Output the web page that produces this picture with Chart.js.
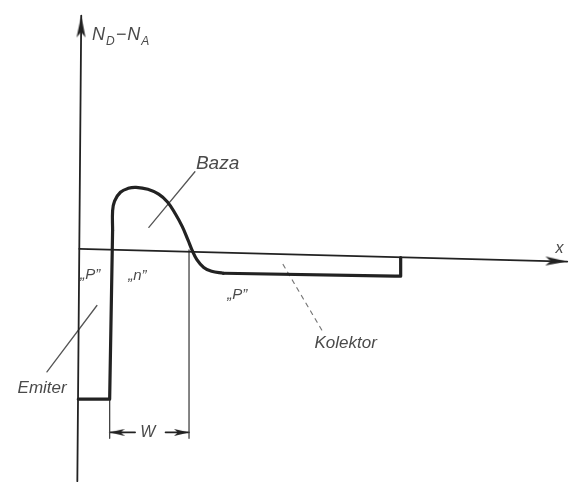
<!DOCTYPE html>
<html>
<head>
<meta charset="utf-8">
<script src="https://cdn.jsdelivr.net/npm/chart.js@4/dist/chart.umd.min.js"></script>
<style>
    html, body { margin: 0; padding: 0; background: #fff; }
    canvas { display: block; }
</style>
</head>
<body>
<canvas id="profile" width="575" height="487"></canvas>
<script>
// Doping profile N_D - N_A along x (arbitrary units)
const axisX = [[0, 0], [49.8, -1.3]];
const axisY = [[-0.2, -23.8], [0.2, 23.9]];

const emitterStep = [[-0.1, -15.4], [3.1, -15.4], [3.4, 1.9]];
const baseHump = [
    [3.4, 1.9], [3.4, 3.9], [3.6, 4.9], [4.2, 5.8], [5.0, 6.2], [5.8, 6.3],
    [7.0, 6.1], [8.1, 5.6], [9.0, 4.8], [9.8, 3.6], [10.5, 2.3], [11.1, 0.9],
    [11.5, -0.1], [12.0, -1.1], [12.7, -1.9], [13.5, -2.3], [14.7, -2.5]
];
const collectorTail = [[14.7, -2.5], [32.2, -2.8], [32.8, -2.8], [32.8, -0.9]];

// base width W
const wLeftTick = [[3.1, -15.5], [3.1, -19.4]];
const wRightTick = [[11.2, -0.1], [11.2, -19.4]];
const wLeftArrow = [[5.7, -18.8], [3.1, -18.8]];
const wRightArrow = [[8.8, -18.8], [11.2, -18.8]];

// callout lines
const bazaLeader = [[11.8, 7.9], [7.1, 2.2]];
const emiterLeader = [[1.8, -5.8], [-3.3, -12.6]];
const kolektorLeader = [[20.8, -1.6], [24.8, -8.4]];

const labels = [
    { text: 'Baza', x: 11.9, y: 8.2, size: 19 },
    { text: 'x', x: 49.0, y: -0.4, size: 16, align: 'center' },
    { text: '\u201EP\u201D', x: 0.1, y: -3.1, size: 15 },
    { text: '\u201En\u201D', x: 5.0, y: -3.2, size: 15 },
    { text: '\u201EP\u201D', x: 15.1, y: -5.1, size: 15 },
    { text: 'Kolektor', x: 24.0, y: -10.2, size: 17 },
    { text: 'Emiter', x: -6.3, y: -14.8, size: 17 },
    { text: 'W', x: 7.0, y: -18.8, size: 16, align: 'center', baseline: 'middle' }
];

const INK = '#222';
const TEXT = '#4a4a4a';
const FONT = '"Liberation Sans", Arial, sans-serif';

// arrow head image, tip sits at the canvas centre so it lands on the point
function arrowHead(len, wid) {
    const c = document.createElement('canvas');
    c.width = len * 2;
    c.height = wid;
    const g = c.getContext('2d');
    g.fillStyle = INK;
    g.beginPath();
    g.moveTo(len, wid / 2);
    g.lineTo(0, 0);
    g.lineTo(len * 0.25, wid / 2);
    g.lineTo(0, wid);
    g.closePath();
    g.fill();
    return c;
}

const bigArrow = arrowHead(22, 9);
const smallArrow = arrowHead(15, 7);

function toPts(arr) {
    return arr.map(p => ({ x: p[0], y: p[1] }));
}

function line(arr, opts = {}) {
    const n = arr.length;
    const tipIdx = opts.arrowAtEnd ? n - 1 : -1;
    return {
        data: toPts(arr),
        showLine: true,
        borderColor: opts.color || INK,
        borderWidth: opts.width || 1.4,
        borderDash: opts.dash || [],
        tension: opts.tension || 0,
        borderCapStyle: 'round',
        borderJoinStyle: 'round',
        pointRadius: ctx => ctx.dataIndex === tipIdx ? 1 : 0,
        pointStyle: ctx => ctx.dataIndex === tipIdx ? opts.head : 'circle',
        pointRotation: opts.rotation || 0,
        clip: false
    };
}

const textPlugin = {
    id: 'figureText',
    afterDatasetsDraw(chart) {
        const { ctx, scales } = chart;
        ctx.save();
        ctx.fillStyle = TEXT;
        labels.forEach(l => {
            ctx.font = `italic ${l.size}px ${FONT}`;
            ctx.textAlign = l.align || 'left';
            ctx.textBaseline = l.baseline || 'alphabetic';
            ctx.fillText(l.text, scales.x.getPixelForValue(l.x), scales.y.getPixelForValue(l.y));
        });

        // N_D - N_A with subscripts
        let px = scales.x.getPixelForValue(1.3);
        const py = scales.y.getPixelForValue(21.4);
        ctx.textAlign = 'left';
        ctx.textBaseline = 'alphabetic';
        [['N', 18, 0], ['D', 12, 5], ['\u2212', 18, 0], ['N', 18, 0], ['A', 12, 5]].forEach(([t, s, dy]) => {
            ctx.font = `italic ${s}px ${FONT}`;
            ctx.fillText(t, px, py + dy);
            px += ctx.measureText(t).width + 1;
        });
        ctx.restore();
    }
};

new Chart(document.getElementById('profile'), {
    type: 'scatter',
    data: {
        datasets: [
            line(axisX, { width: 1.8, arrowAtEnd: true, head: bigArrow, rotation: 1.5 }),
            line(axisY, { width: 1.8, arrowAtEnd: true, head: bigArrow, rotation: -89.5 }),
            line(emitterStep, { width: 3.2 }),
            line(baseHump, { width: 3.2, tension: 0.4 }),
            line(collectorTail, { width: 3.2 }),
            line(wLeftTick, { width: 1.3, color: '#444' }),
            line(wRightTick, { width: 1.3, color: '#444' }),
            line(wLeftArrow, { width: 1.6, arrowAtEnd: true, head: smallArrow, rotation: 180 }),
            line(wRightArrow, { width: 1.6, arrowAtEnd: true, head: smallArrow, rotation: 0 }),
            line(bazaLeader, { width: 1.3, color: '#555' }),
            line(emiterLeader, { width: 1.3, color: '#555' }),
            line(kolektorLeader, { width: 1.2, color: '#777', dash: [4, 5] })
        ]
    },
    options: {
        responsive: false,
        animation: false,
        layout: { padding: 0 },
        scales: {
            x: { type: 'linear', min: -7.5, max: 50, display: false },
            y: { type: 'linear', min: -23.8, max: 24.9, display: false }
        },
        plugins: {
            legend: { display: false },
            tooltip: { enabled: false }
        }
    },
    plugins: [textPlugin]
});
</script>
</body>
</html>
